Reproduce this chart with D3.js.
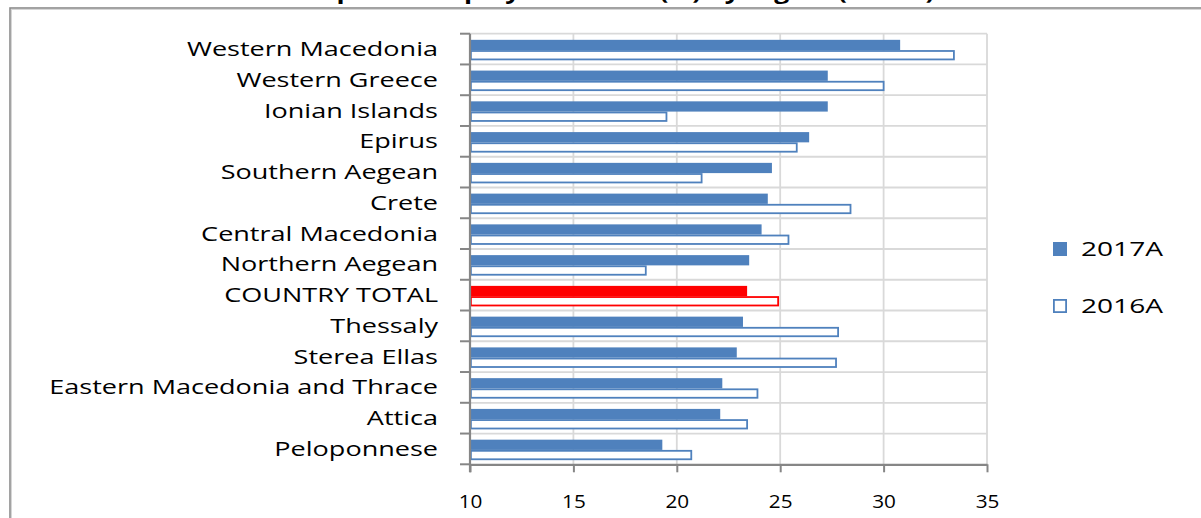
<!DOCTYPE html>
<html>
<head>
<meta charset="utf-8">
<script src="https://cdn.jsdelivr.net/npm/d3@7/dist/d3.min.js"></script>
<style>
  html, body { margin: 0; padding: 0; background: #ffffff; }
  svg { display: block; }
  text { font-family: "Open Sans", "DejaVu Sans", sans-serif; fill: #000; }
</style>
</head>
<body>
<svg id="chart" width="1201" height="518"></svg>
<script>
// ---- data ----
const titleText = "Graph: Unemployment rate (%) by region (2017A)";
const categories = [
  "Western Macedonia", "Western Greece", "Ionian Islands", "Epirus",
  "Southern Aegean", "Crete", "Central Macedonia", "Northern Aegean",
  "COUNTRY TOTAL", "Thessaly", "Sterea Ellas",
  "Eastern Macedonia and Thrace", "Attica", "Peloponnese"
];
const seriesNames = ["2017A", "2016A"];
const values2017 = [30.8, 27.3, 27.3, 26.4, 24.6, 24.4, 24.1, 23.5, 23.4, 23.2, 22.9, 22.2, 22.1, 19.3];
const values2016 = [33.4, 30.0, 19.5, 25.8, 21.2, 28.4, 25.4, 18.5, 24.9, 27.8, 27.7, 23.9, 23.4, 20.7];
const xTicks = [10, 15, 20, 25, 30, 35];
const highlight = "COUNTRY TOTAL";

// ---- layout ----
const svg = d3.select("#chart");
const plot = { left: 470, right: 987, top: 33.7, bottom: 464.3 };
const blue = "#4f81bd", red = "#ff0000", grid = "#d9d9d9", axisGray = "#868686";

// frame
svg.append("rect").attr("x", 10).attr("y", 8).attr("width", 1300).attr("height", 600)
  .attr("fill", "none").attr("stroke", "#8c8c8c").attr("stroke-width", 1.6);
svg.append("rect").attr("x", 11.5).attr("y", 9.5).attr("width", 1300).attr("height", 600)
  .attr("fill", "none").attr("stroke", "#d6d6d6").attr("stroke-width", 1);

// title (clipped by window top)
const title = svg.append("text").attr("x", 612).attr("y", -1.5)
  .attr("text-anchor", "middle").attr("font-size", 22).attr("font-weight", "bold")
  .text(titleText);
title.attr("textLength", 645).attr("lengthAdjust", "spacingAndGlyphs");

const x = d3.scaleLinear().domain([10, 35]).range([plot.left, plot.right]);
const y = d3.scaleBand().domain(categories).range([plot.top, plot.bottom]).padding(0);
const ySub = d3.scaleBand().domain(seriesNames).range([1, y.bandwidth() + 1]).paddingInner(0).paddingOuter(0.5);

// horizontal gridlines at band boundaries
const boundaries = categories.map(c => y(c));
svg.append("g").selectAll("line").data(boundaries).join("line")
  .attr("x1", plot.left).attr("x2", plot.right)
  .attr("y1", d => d).attr("y2", d => d)
  .attr("stroke", grid).attr("stroke-width", 1.8);

// vertical gridlines
svg.append("g").selectAll("line").data(xTicks.slice(1)).join("line")
  .attr("x1", d => x(d)).attr("x2", d => x(d))
  .attr("y1", plot.top).attr("y2", plot.bottom)
  .attr("stroke", grid).attr("stroke-width", 1.8);

// bars
const rows = categories.map((c, i) => ({ cat: c, v17: values2017[i], v16: values2016[i] }));
const colorOf = d => d.cat === highlight ? red : blue;
const bw = ySub.bandwidth();

svg.append("g").selectAll("rect").data(rows).join("rect")
  .attr("x", x(10))
  .attr("y", d => y(d.cat) + ySub("2017A"))
  .attr("width", d => x(d.v17) - x(10))
  .attr("height", bw)
  .attr("fill", colorOf);

const sw = 1.8;
svg.append("g").selectAll("rect").data(rows).join("rect")
  .attr("x", x(10) + sw / 2)
  .attr("y", d => y(d.cat) + ySub("2016A") + sw / 2)
  .attr("width", d => x(d.v16) - x(10) - sw / 2)
  .attr("height", bw - sw)
  .attr("fill", "#fff")
  .attr("stroke", colorOf)
  .attr("stroke-width", sw);

// left axis
const yAxis = d3.axisLeft(y).tickSize(10).tickSizeOuter(0).tickFormat("");
const gy = svg.append("g").attr("transform", `translate(${plot.left},0)`).call(yAxis);
gy.selectAll(".tick").remove();
gy.select(".domain").remove();
const tickYs = boundaries.concat([plot.bottom]);
gy.selectAll("line.t").data(tickYs).join("line").attr("class", "t")
  .attr("x1", -10).attr("x2", 0).attr("y1", d => d).attr("y2", d => d)
  .attr("stroke", axisGray).attr("stroke-width", 2);
gy.append("line").attr("x1", 0).attr("x2", 0).attr("y1", plot.top).attr("y2", plot.bottom + 8)
  .attr("stroke", axisGray).attr("stroke-width", 2.2);

// category labels
const labels = svg.append("g").selectAll("text").data(categories).join("text")
  .attr("x", 438)
  .attr("y", d => y(d) + y.bandwidth() / 2 + 7)
  .attr("text-anchor", "end")
  .attr("font-size", 19.5)
  .text(d => d);
const refNode = labels.filter(d => d === "Western Macedonia").node();
const labelFactor = 251 / refNode.getComputedTextLength();
labels.each(function () {
  const w = this.getComputedTextLength();
  d3.select(this).attr("textLength", w * labelFactor).attr("lengthAdjust", "spacingAndGlyphs");
});

// bottom axis
const xAxis = d3.axisBottom(x).tickValues(xTicks).tickSize(8).tickSizeOuter(0).tickFormat(d3.format("d"));
const gx = svg.append("g").attr("transform", `translate(0,${plot.bottom})`).call(xAxis);
gx.select(".domain").attr("stroke", axisGray).attr("stroke-width", 2.2);
gx.selectAll(".tick line").attr("stroke", axisGray).attr("stroke-width", 2);
gx.selectAll(".tick text")
  .attr("y", 0).attr("dy", 0)
  .attr("transform", "translate(0,43.5)")
  .attr("font-size", 18.5)
  .attr("font-family", "'Open Sans', sans-serif")
  .attr("fill", "#000");
gx.selectAll(".tick text").each(function () {
  const w = this.getComputedTextLength();
  d3.select(this).attr("textLength", w * 1.12).attr("lengthAdjust", "spacingAndGlyphs");
});

// legend
const legend = svg.append("g");
const legendY = [242, 299];
seriesNames.forEach((name, i) => {
  const g = legend.append("g").attr("transform", `translate(1053,${legendY[i]})`);
  if (i === 0) {
    g.append("rect").attr("width", 14).attr("height", 14).attr("fill", blue);
  } else {
    g.append("rect").attr("x", 0.9).attr("y", 0.9).attr("width", 12.2).attr("height", 12.2)
      .attr("fill", "#fff").attr("stroke", blue).attr("stroke-width", 1.8);
  }
  const t = g.append("text").attr("x", 28).attr("y", 14).attr("font-size", 19.5).text(name);
  t.attr("textLength", 82).attr("lengthAdjust", "spacingAndGlyphs");
});
</script>
</body>
</html>
